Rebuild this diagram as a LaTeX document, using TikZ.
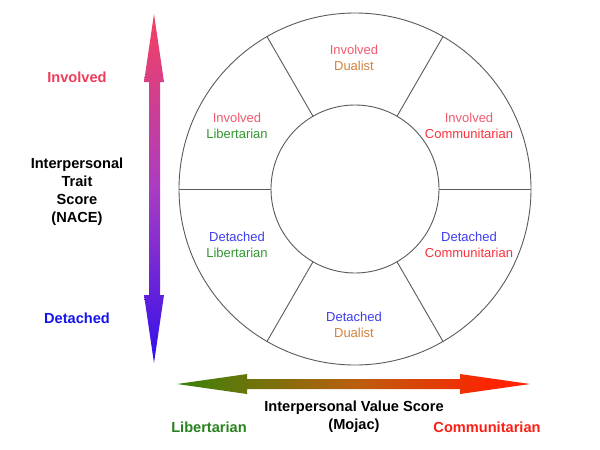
\documentclass[tikz,border=0pt]{standalone}
\usepackage{fontspec}
\setmainfont{Liberation Sans}
\usetikzlibrary{calc}
\definecolor{invred}{RGB}{238,60,92}
\definecolor{detblue}{RGB}{20,20,235}
\definecolor{libgreen}{RGB}{40,130,30}
\definecolor{comred}{RGB}{250,30,20}
\definecolor{cellinv}{RGB}{242,90,110}
\definecolor{celldet}{RGB}{60,60,240}
\definecolor{celllib}{RGB}{50,150,50}
\definecolor{cellcom}{RGB}{250,50,60}
\definecolor{celldual}{RGB}{210,130,60}
\definecolor{ringline}{RGB}{90,90,90}
\definecolor{arrtop}{RGB}{245,65,95}
\definecolor{arrmid}{RGB}{170,60,195}
\definecolor{arrbot}{RGB}{50,15,235}
\definecolor{arrleft}{RGB}{55,130,10}
\definecolor{arrcentre}{RGB}{185,95,15}
\definecolor{arrright}{RGB}{255,35,0}
% three-colour gradients for the two axis arrows
\pgfdeclarehorizontalshading{valueaxis}{100bp}{
  color(0bp)=(arrleft); color(25bp)=(arrleft); color(50bp)=(arrcentre);
  color(70bp)=(arrright); color(100bp)=(arrright)}
\pgfdeclareverticalshading{traitaxis}{100bp}{
  color(0bp)=(arrbot); color(25bp)=(arrbot); color(50bp)=(arrmid);
  color(75bp)=(arrtop); color(100bp)=(arrtop)}
\tikzset{
  ring/.style={draw=ringline, line width=0.9pt},
  cell/.style={align=center, font=\fontsize{13}{16.5}\selectfont, inner sep=0pt},
  axislabel/.style={align=center, font=\fontsize{14.6}{18}\selectfont\bfseries, inner sep=0pt},
}
\begin{document}
\begin{tikzpicture}[x=1pt, y=-1pt]
\useasboundingbox (0,0) rectangle (600,450);

% vertical gradient arrow (Involved / Detached)
\shade[shading=traitaxis]
  (154,14) -- (164,82) -- (160,82) -- (160,295) -- (164,295) -- (154,363)
  -- (144,295) -- (149,295) -- (149,82) -- (144,82) -- cycle;

% horizontal gradient arrow (Libertarian / Communitarian)
\shade[shading=valueaxis]
  (177,384) -- (247,374) -- (247,379) -- (460,379) -- (460,374) -- (530,384)
  -- (460,394) -- (460,389) -- (247,389) -- (247,394) -- cycle;

% the ring of six sectors
\coordinate (c) at (355,189);
\draw[ring] (c) circle[radius=176pt];
\draw[ring] (c) circle[radius=84pt];
\foreach \a in {0,60,120,180,240,300}
  \draw[ring] ($(c)+(\a:84pt)$) -- ($(c)+(\a:176pt)$);

% sector labels
\node[cell] (idu) at (354,58) {\textcolor{cellinv}{Involved}\\\textcolor{celldual}{Dualist}};
\node[cell] (ili) at (237,126) {\textcolor{cellinv}{Involved}\\\textcolor{celllib}{Libertarian}};
\node[cell] (ico) at (469,126) {\textcolor{cellinv}{Involved}\\\textcolor{cellcom}{Communitarian}};
\node[cell] (dli) at (237,245) {\textcolor{celldet}{Detached}\\\textcolor{celllib}{Libertarian}};
\node[cell] (dco) at (469,245) {\textcolor{celldet}{Detached}\\\textcolor{cellcom}{Communitarian}};
\node[cell] (ddu) at (354,325) {\textcolor{celldet}{Detached}\\\textcolor{celldual}{Dualist}};

% axis labels
\node[axislabel, text=invred] (inv) at (77,77) {Involved};
\node[axislabel] (trait) at (77,192) {Interpersonal\\Trait\\Score\\(NACE)};
\node[axislabel, text=detblue] (det) at (77,318) {Detached};
\node[axislabel] (value) at (354,417) {Interpersonal Value Score\\(Mojac)};
\node[axislabel, text=libgreen] (lib) at (209,427) {Libertarian};
\node[axislabel, text=comred] (com) at (487,427) {Communitarian};
\end{tikzpicture}
\end{document}
